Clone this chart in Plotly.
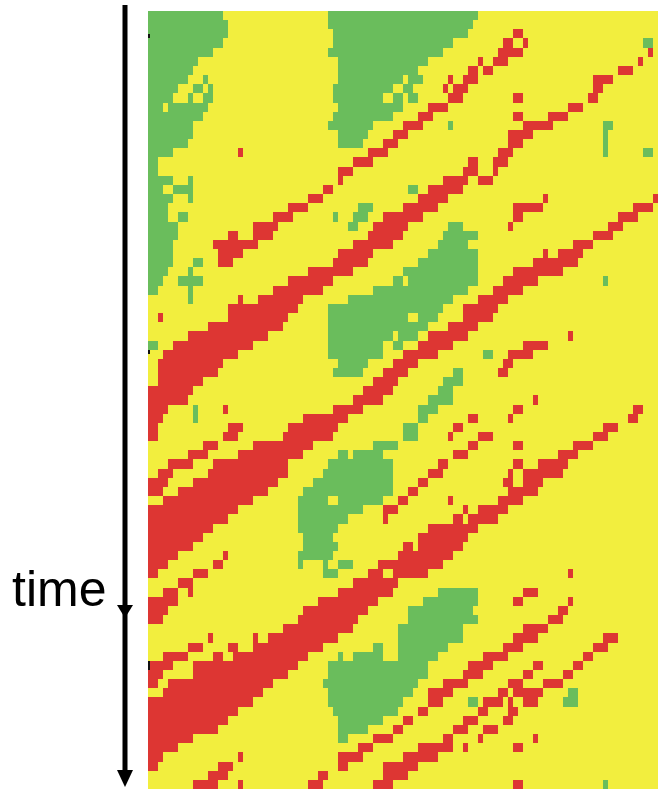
import plotly.graph_objects as go

N_COLS = 102
# per time-step (row) spans [start, end) of each state; everything else is the background state
green_spans = [
[[0,15],[36,66]],[[0,16],[36,65]],[[0,16],[37,64]],[[0,15],[37,61],[99,101]],[[0,13],[36,59]],
[[0,10],[38,56]],[[0,9],[38,54]],[[0,8],[11,12],[38,51],[52,55]],[[0,6],[9,11],[12,13],[37,49],[51,53]],[[0,5],[8,9],[11,13],[37,47],[49,51],[52,54]],
[[0,3],[4,12],[38,51]],[[0,11],[37,49]],[[0,9],[36,45],[60,61],[91,93]],[[0,9],[38,44],[91,92]],[[0,8],[38,43],[91,92]],
[[0,5],[91,92],[99,101]],[[0,2]],[[0,2]],[[0,5],[8,9]],[[0,3],[5,8],[8,9],[52,54]],
[[0,5],[8,9]],[[0,4],[42,45]],[[0,4],[6,8],[37,38],[41,44]],[[0,6],[40,42],[60,63]],[[0,6],[59,66]],
[[0,5],[58,64]],[[0,5],[56,66]],[[0,5],[9,11],[54,66]],[[0,4],[8,9],[51,66]],[[0,3],[6,11],[49,51],[52,66],[91,92]],
[[0,2],[8,9],[45,64]],[[8,9],[40,61]],[[36,59]],[[36,52],[54,58]],[[36,56]],
[[36,49],[50,54]],[[0,2],[36,47],[49,51]],[[36,47],[67,69]],[[38,44]],[[37,43],[61,63]],
[[59,63]],[[58,61]],[[56,61]],[[9,10],[54,58]],[[9,10],[54,56]],
[[51,54]],[[51,54]],[[45,50]],[[38,40],[41,47]],[[36,49]],
[[35,49]],[[33,49]],[[31,49]],[[30,36],[38,47]],[[30,43]],
[[30,40]],[[30,38]],[[31,37]],[[31,38]],[[30,37]],
[[30,31],[35,36],[38,41]],[[35,38]],[],[[58,66]],[[55,66]],
[[52,65]],[[52,66]],[[50,63]],[[50,63]],[[45,47],[50,60]],
[[38,39],[41,47],[50,58]],[[36,56]],[[36,56]],[[35,54]],[[36,53],[84,86]],
[[36,51],[64,66],[83,86]],[[37,50]],[[38,47]],[[38,44]],[[38,40]],
[],[],[],[],[[91,92]],
]
red_spans = [
[],[],[[73,75]],[[71,73],[75,76]],[[70,73],[73,75],[100,101]],
[[66,67],[69,72],[98,99]],[[64,66],[67,69],[94,97]],[[60,61],[63,66],[89,93]],[[59,60],[61,64],[89,91]],[[60,63],[73,75],[88,90]],
[[56,60],[84,87]],[[54,57],[73,75],[80,84]],[[51,55],[75,81]],[[49,52],[72,77]],[[47,50],[72,75]],
[[18,19],[44,48],[70,73]],[[41,45],[64,66],[69,72]],[[38,41],[63,66],[69,70]],[[38,39],[59,64],[66,69]],[[35,37],[56,63]],
[[32,35],[54,60],[79,80],[101,102]],[[28,32],[51,58],[73,79],[97,101]],[[25,29],[47,55],[73,75],[94,98]],[[21,26],[45,52],[72,73],[92,95]],[[16,18],[21,25],[44,51],[89,93]],
[[13,22],[41,49],[85,89]],[[14,19],[38,45],[79,80],[82,87]],[[14,17],[37,44],[77,86]],[[32,41],[73,83]],[[28,37],[71,78]],
[[25,35],[69,75]],[[18,19],[22,31],[66,72]],[[16,30],[63,70]],[[2,3],[16,28],[63,69]],[[12,27],[60,66]],
[[8,24],[56,64],[84,85]],[[5,21],[54,61],[75,80]],[[3,18],[51,58],[72,77]],[[2,15],[49,54],[71,73]],[[2,14],[47,52],[70,72]],
[[2,11],[45,50]],[[0,9],[43,49]],[[0,8],[41,47],[77,78]],[[0,4],[15,16],[37,43],[73,75],[97,99]],[[0,3],[31,40],[64,66],[72,73],[96,98]],
[[0,2],[16,19],[28,38],[61,63],[91,94]],[[0,2],[15,18],[27,37],[60,61],[66,69],[89,92]],[[11,14],[21,33],[64,66],[73,75],[85,89]],[[8,12],[18,31],[61,64],[82,86]],[[4,9],[13,28],[58,60],[73,75],[78,84]],
[[2,5],[12,28],[56,59],[72,73],[75,83]],[[0,4],[9,26],[54,56],[71,73],[75,79]],[[0,3],[6,24],[52,54],[72,78]],[[3,21],[50,52],[60,61],[70,75]],[[0,18],[47,50],[63,64],[66,72]],
[[0,16],[47,48],[61,63],[64,70]],[[0,13],[56,66]],[[0,11],[54,64]],[[0,9],[51,53],[54,63]],[[0,6],[15,16],[50,61]],
[[0,4],[13,15],[46,59]],[[0,2],[9,12],[44,47],[49,56],[84,85]],[[6,9],[41,50]],[[3,6],[8,9],[38,49],[75,78]],[[0,6],[34,46],[73,75],[84,85]],
[[0,4],[31,44],[82,84]],[[0,3],[30,42],[80,83]],[[27,41],[75,80]],[[12,13],[21,22],[24,38],[73,78],[91,94]],[[8,9],[9,11],[16,18],[21,35],[71,75],[89,92]],
[[3,8],[13,15],[17,32],[67,72],[87,89]],[[0,5],[9,30],[64,69],[77,79],[85,87]],[[0,3],[9,28],[63,67],[75,77],[83,85]],[[0,2],[4,25],[59,64],[72,75],[79,83]],[[3,23],[56,61],[70,72],[73,79]],
[[0,21],[56,59],[67,71],[72,73],[75,78]],[[0,18],[54,56],[66,68],[72,74]],[[0,16],[51,53],[63,66],[71,73]],[[0,14],[49,51],[61,64],[67,70]],[[0,9],[45,49],[59,61],[66,67],[77,78]],
[[0,6],[42,45],[54,61],[63,64],[73,75]],[[0,3],[18,19],[38,43],[51,58]],[[0,2],[14,17],[38,40],[47,54]],[[12,16],[34,36],[47,52]],[[9,14],[18,19],[32,35],[45,49],[73,75]],
]
state_values = [0, 1, 2]       # background, green, red
state_colors = ["#F2EE3E", "#6ABD5C", "#DD3633"]

z = []
for g_row, r_row in zip(green_spans, red_spans):
    row = [state_values[0]] * N_COLS
    for a, b in g_row:
        for i in range(a, b):
            row[i] = state_values[1]
    for a, b in r_row:
        for i in range(a, b):
            row[i] = state_values[2]
    z.append(row)

W, H = 663, 789
px = lambda v: v / W
py = lambda v: 1 - v / H

fig = go.Figure(go.Heatmap(
    z=z, zmin=0, zmax=2, showscale=False, hoverinfo="skip",
    colorscale=[[0, state_colors[0]], [0.33, state_colors[0]], [0.33, state_colors[1]],
                [0.66, state_colors[1]], [0.66, state_colors[2]], [1, state_colors[2]]],
))

shapes = [dict(type="rect", xref="paper", yref="paper", x0=px(122.5), x1=px(127.5), y0=py(5), y1=py(775),
               fillcolor="black", line_width=0)]
for top, bottom in [(605, 618), (770, 787)]:
    shapes.append(dict(type="path", xref="paper", yref="paper",
                       path=f"M {px(117)} {py(top)} L {px(133)} {py(top)} L {px(125)} {py(bottom)} Z",
                       fillcolor="black", line_width=0))
for top, bottom in [(34, 38), (350, 354), (661, 670)]:
    shapes.append(dict(type="rect", xref="paper", yref="paper", x0=px(148), x1=px(150), y0=py(top), y1=py(bottom),
                       fillcolor="#111111", line_width=0))

fig.update_layout(
    width=W, height=H, autosize=False,
    margin=dict(l=0, r=0, t=0, b=0),
    paper_bgcolor="white", plot_bgcolor="white",
    xaxis=dict(domain=[px(148), px(658)], visible=False, range=[-0.5, N_COLS - 0.5], fixedrange=True),
    yaxis=dict(domain=[0, py(11)], visible=False, range=[len(z) - 0.5, -0.5], fixedrange=True),
    shapes=shapes,
    annotations=[dict(text="time", xref="paper", yref="paper", x=px(10), y=py(589), xanchor="left", yanchor="middle",
                      showarrow=False, font=dict(family="Liberation Sans, Arial, sans-serif", size=50, color="black"))],
)
fig.write_html("out.html", config={"displayModeBar": False},
               post_script="document.body.style.margin='0';document.body.style.overflow='hidden';")
